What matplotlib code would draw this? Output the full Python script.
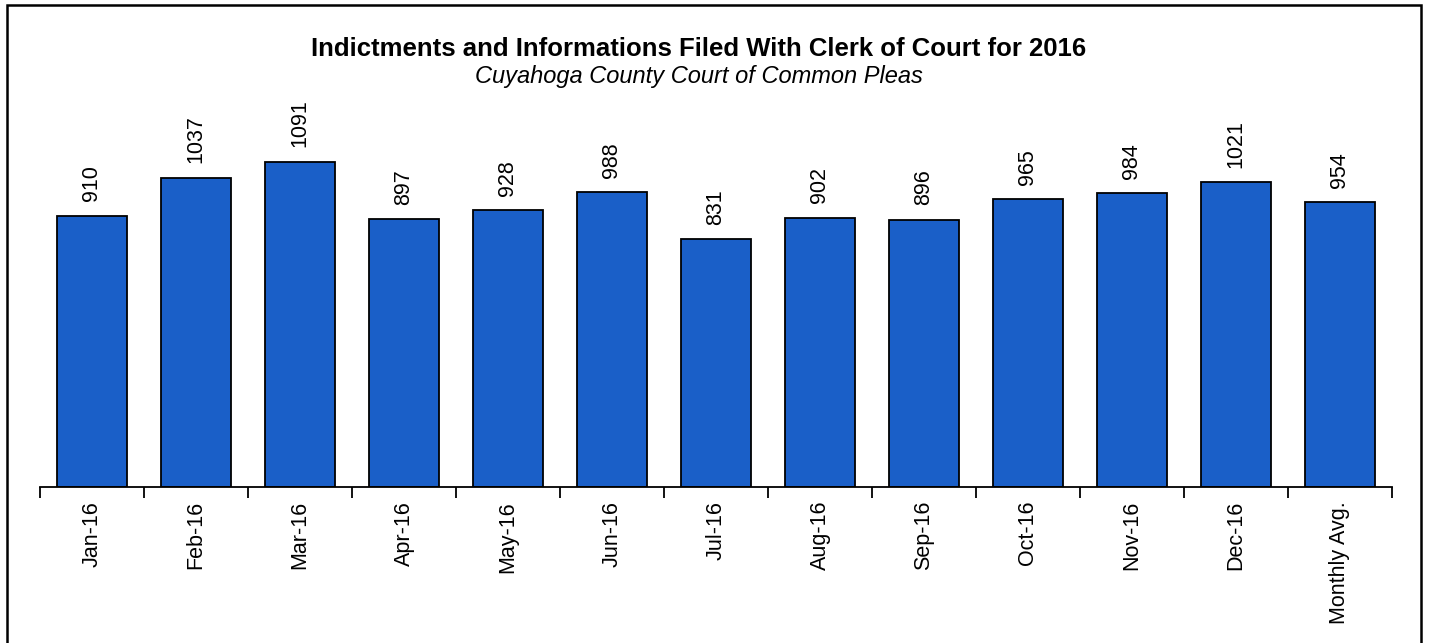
import matplotlib.pyplot as plt
from matplotlib.patches import Rectangle

plt.rcParams['font.family'] = ['Liberation Sans', 'DejaVu Sans']

# monthly filings, 2016
months = ["Jan-16", "Feb-16", "Mar-16", "Apr-16", "May-16", "Jun-16", "Jul-16",
          "Aug-16", "Sep-16", "Oct-16", "Nov-16", "Dec-16", "Monthly Avg."]
filings = [910, 1037, 1091, 897, 928, 988, 831, 902, 896, 965, 984, 1021, 954]

W, H = 1429, 643
fig = plt.figure(figsize=(W / 100, H / 100), dpi=100)

# axes placed in pixel terms: baseline at y=487, x from 40 to 1392
ymax = 1400
px_per_unit = 0.2983
bottom_px = 487
top_px = bottom_px - ymax * px_per_unit
ax = fig.add_axes([40 / W, (H - bottom_px) / H, 1352 / W, (bottom_px - top_px) / H])

x = list(range(len(months)))
bars = ax.bar(x, filings, width=0.67, color='#1a5fc8', edgecolor='black', linewidth=1.3)

for xi, v in zip(x, filings):
    ax.annotate(str(v), (xi, v), xytext=(0, 10.5), textcoords='offset points',
                rotation=90, ha='center', va='bottom', fontsize=15.5)

ax.set_xlim(-0.5, len(months) - 0.5)
ax.set_ylim(0, ymax)
ax.set_yticks([])
for s in ['left', 'right', 'top']:
    ax.spines[s].set_visible(False)
ax.spines['bottom'].set_linewidth(1.3)

ax.set_xticks(x)
ax.set_xticklabels(months, rotation=90, fontsize=15.5)
ax.tick_params(axis='x', which='major', length=0, pad=10)
ax.set_xticks([i - 0.5 for i in range(len(months) + 1)], minor=True)
ax.tick_params(axis='x', which='minor', length=8, width=1.3, direction='out')

# titles
fig.text(699 / W, 1 - 49 / H, "Indictments and Informations Filed With Clerk of Court for 2016",
         ha='center', va='center', fontsize=18.5, fontweight='bold')
fig.text(699 / W, 1 - 77 / H, "Cuyahoga County Court of Common Pleas",
         ha='center', va='center', fontsize=17, style='italic')

# outer border of the chart area
fig.patches.append(Rectangle((7 / W, -0.05), (1421 - 7) / W, 1 - 5 / H + 0.05,
                             transform=fig.transFigure, fill=False,
                             edgecolor='black', linewidth=1.8))

fig.savefig("out.png", dpi=100)
